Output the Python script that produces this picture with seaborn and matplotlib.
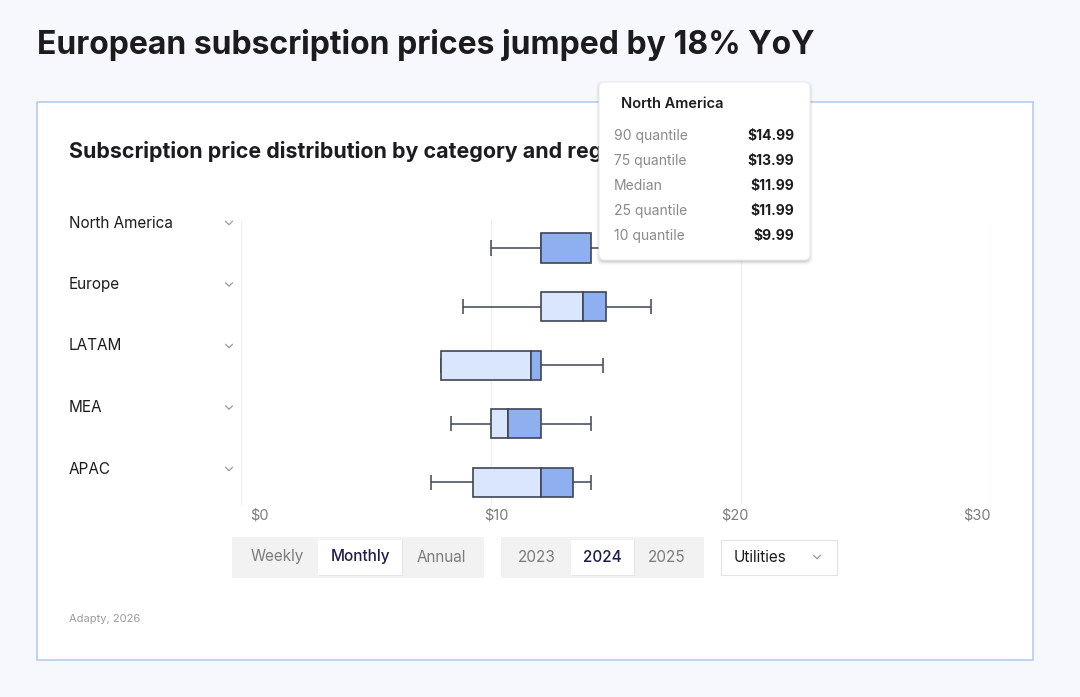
import matplotlib
matplotlib.use("Agg")
import matplotlib.pyplot as plt
from matplotlib.patches import FancyBboxPatch, Rectangle
import seaborn as sns
import pandas as pd

# data (monthly, 2024, Utilities)
regions = ["North America", "Europe", "LATAM", "MEA", "APAC"]
p10 = [9.99, 8.89, 7.99, 8.39, 7.59]
q25 = [11.99, 11.99, 7.99, 9.99, 9.29]
median = [11.99, 13.69, 11.59, 10.69, 11.99]
q75 = [13.99, 14.59, 11.99, 11.99, 13.29]
p90 = [14.99, 16.39, 14.49, 13.99, 13.99]
xticks = [0, 10, 20, 30]
xtick_labels = ["$0", "$10", "$20", "$30"]

tip_region = "North America"
tip_rows = ["90 quantile", "75 quantile", "Median", "25 quantile", "10 quantile"]
tip_vals = ["$14.99", "$13.99", "$11.99", "$11.99", "$9.99"]

periods = ["Weekly", "Monthly", "Annual"]
years = ["2023", "2024", "2025"]

W, H = 1080, 697
sns.set_theme(style="white")
plt.rcParams["font.family"] = ["Inter", "DejaVu Sans"]

LIGHT = "#dae6fb"
DARK = "#8fb0f0"
EDGE = "#3f4553"
GREY = "#7c7c7c"
INK = "#1c1c1e"

fig = plt.figure(figsize=(W / 100, H / 100), dpi=100)
fig.patch.set_facecolor("#f7f8fd")

# background layer in pixel coords
bg = fig.add_axes([0, 0, 1, 1], zorder=0)
bg.set_xlim(0, W)
bg.set_ylim(H, 0)
bg.axis("off")
bg.add_patch(Rectangle((37, 102), 996, 558, facecolor="white", edgecolor="#b8ccef", lw=1.2))
bg.text(37, 45, "European subscription prices jumped by 18% YoY", fontsize=23,
        fontweight="bold", color=INK, va="center", ha="left")
bg.text(69, 151, "Subscription price distribution by category and region", fontsize=15.4,
        fontweight="bold", color=INK, va="center", ha="left")
bg.text(69, 619, "Adapty, 2026", fontsize=8, color="#9a9a9a", va="center")


def chevron(ax, cx, cy, s=4, color="#9a9a9a"):
    ax.plot([cx - s, cx, cx + s], [cy - s / 2, cy + s / 2, cy - s / 2], color=color, lw=0.9,
            solid_capstyle="round")


# segmented controls
def segmented(ax, x0, x1, labels, sel, sel_box, centers):
    ax.add_patch(Rectangle((x0, 537), x1 - x0, 41, facecolor="#f2f2f3", edgecolor="none"))
    sx0, sx1 = sel_box
    ax.add_patch(Rectangle((sx0 + 1, 541), sx1 - sx0, 35, facecolor="#e4e4e6", edgecolor="none"))
    ax.add_patch(Rectangle((sx0, 540), sx1 - sx0, 35, facecolor="white", edgecolor="none"))
    for lab, cx in zip(labels, centers):
        is_sel = lab == sel
        ax.text(cx, 557, lab, fontsize=11, ha="center", va="center",
                color="#1d1b4b" if is_sel else GREY, fontweight="medium" if is_sel else "normal")


segmented(bg, 232, 484, periods, "Monthly", (318, 402), [277, 360, 441])
segmented(bg, 501, 704, years, "2024", (571, 634), [537, 602, 667])
bg.add_patch(Rectangle((722, 541), 116, 35, facecolor="#e6e6e8", edgecolor="none"))
bg.add_patch(Rectangle((721, 540), 116, 35, facecolor="white", edgecolor="#e3e3e5", lw=0.8))
bg.text(734, 557, "Utilities", fontsize=11, ha="left", va="center", color=INK)
chevron(bg, 817, 557, s=3.5)

# plot axes: x 0..30 maps to px 241..991, rows at px 248..482
ax = fig.add_axes([241 / W, 1 - 505 / H, 750 / W, 285 / H], zorder=1)
ax.patch.set_alpha(0)

df = pd.DataFrame({"region": regions, "p10": p10, "q25": q25, "median": median,
                   "q75": q75, "p90": p90})
df["low_w"] = df["median"] - df["q25"]
df["high_w"] = df["q75"] - df["median"]

sns.barplot(data=df, x="low_w", y="region", order=regions, orient="y", left=df["q25"].tolist(),
            color=LIGHT, edgecolor=EDGE, linewidth=1.2, width=0.5, errorbar=None,
            saturation=1, ax=ax, zorder=3)
sns.barplot(data=df, x="high_w", y="region", order=regions, orient="y",
            left=df["median"].tolist(), color=DARK, edgecolor=EDGE, linewidth=1.2, width=0.5,
            errorbar=None, saturation=1, ax=ax, zorder=3)

ypos = list(range(len(regions)))
ax.hlines(ypos, df["p10"], df["q25"], color=EDGE, lw=1.1, zorder=2)
ax.hlines(ypos, df["q75"], df["p90"], color=EDGE, lw=1.1, zorder=2)
ax.vlines(df["p10"], [y - 0.13 for y in ypos], [y + 0.13 for y in ypos], color=EDGE, lw=1.1, zorder=2)
ax.vlines(df["p90"], [y - 0.13 for y in ypos], [y + 0.13 for y in ypos], color=EDGE, lw=1.1, zorder=2)

ax.set_xlim(0, 30)
ax.set_ylim(4.39, -0.48)
for t in xticks:
    ax.axvline(t, color="#f0f0f0", lw=1, zorder=0)
ax.set_xticks([])
ax.set_yticks([])
ax.set_xlabel("")
ax.set_ylabel("")
sns.despine(ax=ax, left=True, bottom=True)

# tick labels under the grid
tr = ax.get_xaxis_transform()
for t, lab, ha, dx in zip(xticks, xtick_labels, ["left", "center", "center", "right"],
                          [0.35, 0.2, -0.25, 0.0]):
    ax.text(t + dx, -0.012, lab, transform=tr, ha=ha, va="top", fontsize=10.5, color=GREY,
            clip_on=False)

# region labels with chevrons (their own spacing, a bit wider than the rows)
for i, r in enumerate(regions):
    yy = 223 + i * 61.5
    bg.text(69, yy, r, ha="left", va="center", fontsize=11, color=INK)
    chevron(bg, 229, yy, s=3.5)

# tooltip on top
top = fig.add_axes([0, 0, 1, 1], zorder=5)
top.set_xlim(0, W)
top.set_ylim(H, 0)
top.axis("off")
for k, a in [(4, 0.025), (3, 0.035), (2, 0.05), (1, 0.07)]:
    top.add_patch(FancyBboxPatch((599 - k + 1, 82 - k + 3), 211 + 2 * k - 2, 178 + 2 * k - 2,
                                 boxstyle="round,pad=0,rounding_size=7", facecolor="black",
                                 edgecolor="none", alpha=a))
top.add_patch(FancyBboxPatch((599, 82), 211, 178, boxstyle="round,pad=0,rounding_size=6",
                             facecolor="white", edgecolor="#ececec", lw=0.8))
top.text(621, 104, tip_region, fontsize=10.5, fontweight="semibold", color=INK, va="center")
for j, (lab, val) in enumerate(zip(tip_rows, tip_vals)):
    yy = 136 + j * 25
    top.text(614, yy, lab, fontsize=10, color="#8a8a8a", va="center", ha="left")
    top.text(794, yy, val, fontsize=10, fontweight="bold", color=INK, va="center", ha="right")

fig.savefig("out.png", dpi=100)
